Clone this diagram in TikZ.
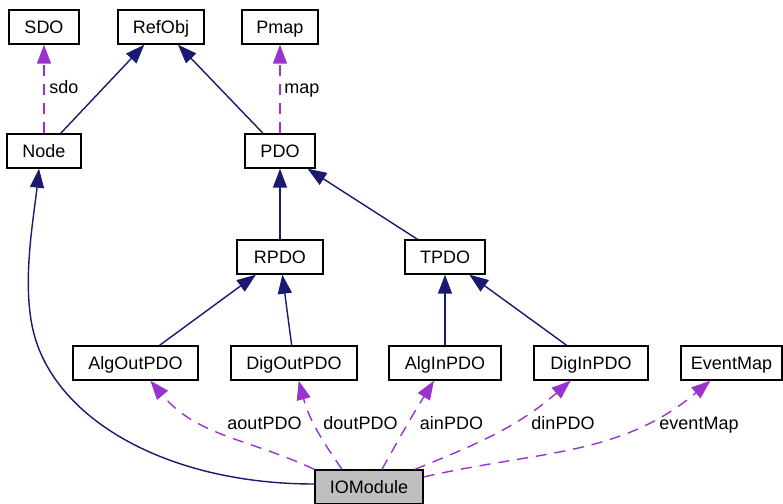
\documentclass[tikz,border=0pt]{standalone}
\usepackage{fontspec}
\setmainfont{Liberation Sans}
\usetikzlibrary{arrows.meta,positioning}
\definecolor{cinh}{RGB}{25,25,112}
\definecolor{cuse}{RGB}{154,50,205}
\tikzset{
  cls/.style={rectangle,draw=black,line width=0.7pt,fill=white,
    minimum height=17pt,inner sep=2pt,text height=6.45pt,text depth=0pt,
    font=\fontsize{9}{11}\selectfont},
  cur/.style={fill=black!25},
  % inheritance in dark blue, usage relations dashed purple
  inh/.style={-{Triangle[length=9.5pt,width=7pt]},color=cinh,line width=0.7pt},
  usage/.style={-{Triangle[length=9.5pt,width=7pt]},color=cuse,line width=0.7pt,
    dash pattern=on 5.5pt off 4pt},
  elab/.style={font=\fontsize{9}{11}\selectfont,inner sep=0pt,anchor=base}
}

\begin{document}
\begin{tikzpicture}[x=0.5pt,y=0.5pt]
  \useasboundingbox (0,0) rectangle (783,504);
  \node[cls,minimum width=35pt] (SDO) at (44,477) {SDO};
  \node[cls,minimum width=43pt] (RefObj) at (161,477) {RefObj};
  \node[cls,minimum width=38pt] (Pmap) at (280,477) {Pmap};
  \node[cls,minimum width=37pt] (Node) at (44,353) {Node};
  \node[cls,minimum width=35pt] (PDO) at (280,353) {PDO};
  \node[cls,minimum width=43pt] (RPDO) at (280,247) {RPDO};
  \node[cls,minimum width=40pt] (TPDO) at (445,247) {TPDO};
  \node[cls,minimum width=62.5pt] (AlgOutPDO) at (135.5,141) {AlgOutPDO};
  \node[cls,minimum width=63pt] (DigOutPDO) at (294,141) {DigOutPDO};
  \node[cls,minimum width=56pt] (AlgInPDO) at (445,141) {AlgInPDO};
  \node[cls,minimum width=57pt] (DigInPDO) at (591,141) {DigInPDO};
  \node[cls,minimum width=50.5pt] (EventMap) at (731.5,141) {EventMap};
  \node[cls,cur,minimum width=54pt] (IOModule) at (369,17) {IOModule};

  \draw[inh] (Node) -- (RefObj);
  \draw[inh] (PDO) -- (RefObj);
  \draw[inh] (RPDO) -- (PDO);
  \draw[inh] (TPDO) -- (PDO);
  \draw[inh] (AlgOutPDO) -- (RPDO);
  \draw[inh] (DigOutPDO) -- (RPDO);
  \draw[inh] (AlgInPDO) -- (TPDO);
  \draw[inh] (DigInPDO) -- (TPDO);
  \draw[inh] ([yshift=1.5pt]IOModule.west) .. controls (165,20) and (53.2,86.3) .. (33,174)
    .. controls (21.75,222.7) and (33.8,286.3) .. ([xshift=-2.5pt]Node.south);

  \draw[usage] (Node) -- (SDO);
  \draw[usage] (PDO) -- (Pmap);
  \draw[usage] (IOModule.north west) to[out=155,in=-50] (AlgOutPDO);
  \draw[usage] ([xshift=-13.5pt]IOModule.north) to[out=125,in=-75] (DigOutPDO);
  \draw[usage] ([xshift=6.5pt]IOModule.north) to[out=61,in=-122] (AlgInPDO);
  \draw[usage] ([xshift=23pt]IOModule.north) to[out=22,in=-139] (DigInPDO);
  \draw[usage] ([yshift=5pt]IOModule.east) to[out=13,in=-140] (EventMap);

  \node[elab] (lSdo) at (64,410) {sdo};
  \node[elab] (lMap) at (302,410) {map};
  \node[elab] (lAout) at (264.5,74) {aoutPDO};
  \node[elab] (lDout) at (360.5,74) {doutPDO};
  \node[elab] (lAin) at (451.5,74) {ainPDO};
  \node[elab] (lDin) at (563,74) {dinPDO};
  \node[elab] (lEvent) at (699,74) {eventMap};
\end{tikzpicture}
\end{document}
